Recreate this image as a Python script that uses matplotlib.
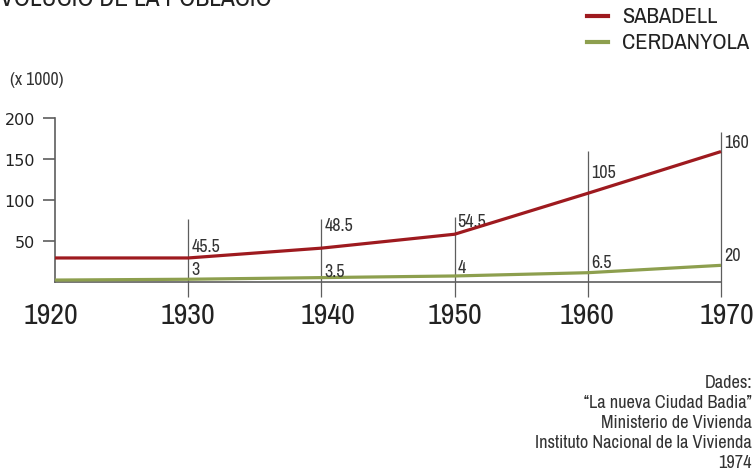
"""
Evolucio de la poblacio: Sabadell i Cerdanyola, 1920-1970.
"""

import matplotlib.pyplot as plt

# data (x 1000 habitants)
years = [1920, 1930, 1940, 1950, 1960, 1970]
sabadell = [29, 29, 41, 58, 108, 159]
cerdanyola = [2, 3, 5, 7, 11, 20]

# labels written on the chart
sabadell_labels = ["", "45.5", "48.5", "54.5", "105", "160"]
cerdanyola_labels = ["", "3", "3.5", "4", "6.5", "20"]
y_ticks = [50, 100, 150, 200]
source_lines = ["Dades:", "\u201cLa nueva Ciudad Badia\u201d", "Ministerio de Vivienda",
                "Instituto Nacional de la Vivienda", "1974"]

# layout (data units / pixels) for the hand-placed labels and guide lines
sab_label_y = [0, 43.6, 69.3, 74, 134, 170.7]
cer_label_y = [0, 15.5, 13, 18, 24, 32.6]
guide_top = [0, 76, 76, 79, 159.6, 182.7]
year_label_dx = [-4.5, -0.5, 6.5, 0, -0.5, 6]

RED = "#9e1a1f"
GREEN = "#8d9f4e"
GRAY = "#5e5e5e"
NARROW = ["Archivo Narrow", "Roboto Condensed", "DejaVu Sans"]

W, H = 756, 477
fig = plt.figure(figsize=(W / 100, H / 100), dpi=100)
ax = fig.add_axes([0, 0, 1, 1])

# pixel mapping: 1920 -> x=55, 1970 -> x=721 ; 0 -> y=282.7, 200 -> y=119
px_per_year = (721 - 55) / 50
px_per_unit = (282.7 - 119) / 200
ax.set_xlim(1920 - 55 / px_per_year, 1920 + (W - 55) / px_per_year)
ax.set_ylim(-(H - 282.7) / px_per_unit, 282.7 / px_per_unit)

for s in ["top", "right"]:
    ax.spines[s].set_visible(False)
ax.spines["left"].set_position(("data", 1920))
ax.spines["left"].set_bounds(0, 200)
ax.spines["bottom"].set_position(("data", 0))
ax.spines["bottom"].set_bounds(1920, 1970)
for s in ["left", "bottom"]:
    ax.spines[s].set_color(GRAY)
    ax.spines[s].set_linewidth(1.2)

ax.set_yticks(y_ticks)
ax.set_yticklabels([str(t) for t in y_ticks], fontsize=11.5, family="DejaVu Sans", color="#222222")
ax.tick_params(axis="y", direction="out", length=8.5, width=1.2, color=GRAY, pad=6)
ax.set_xticks([])

# vertical guide lines at each decade
for yr, top in zip(years[1:], guide_top[1:]):
    ax.vlines(yr, -19, top, color=GRAY, linewidth=0.9)

ax.plot(years, cerdanyola, color=GREEN, linewidth=2.3, solid_capstyle="butt", zorder=3)
ax.plot(years, sabadell, color=RED, linewidth=2.3, solid_capstyle="butt", zorder=4)

dx = 3 / px_per_year
for yr, lab, ly in zip(years, sabadell_labels, sab_label_y):
    if lab:
        ax.text(yr + dx, ly, lab, fontsize=13, family=NARROW, color="#333333", va="center", ha="left")
for yr, lab, ly in zip(years, cerdanyola_labels, cer_label_y):
    if lab:
        ax.text(yr + dx, ly, lab, fontsize=13, family=NARROW, color="#333333", va="center", ha="left")

# year labels below the axis
year_label_y = -(316 - 282.7) / px_per_unit
for yr, off in zip(years, year_label_dx):
    ax.text(yr + off / px_per_year, year_label_y, str(yr), fontsize=21.5, family=NARROW,
            color="#222222", ha="center", va="center")

# title (cut off at the top as in the original)
fig.text(-14 / W, 1 - 6 / H, "EVOLUCI\u00d3 DE LA POBLACI\u00d3", fontsize=18.3, family=NARROW,
         color="#222222", ha="left", va="baseline")
fig.text(10 / W, 1 - 80 / H, "(x 1000)", fontsize=12.8, family=NARROW, color="#333333",
         ha="left", va="center")

# legend
for name, col, ypx in [("SABADELL", RED, 17), ("CERDANYOLA", GREEN, 43)]:
    fig.add_artist(plt.Line2D([587 / W, 608 / W], [1 - ypx / H, 1 - ypx / H], color=col, linewidth=3))
    fig.text(622 / W, 1 - ypx / H, name, fontsize=16.2, family=NARROW, color="#222222",
             ha="left", va="center")

# source
for i, line in enumerate(source_lines):
    fig.text(752 / W, 1 - (383 + 20 * i) / H, line, fontsize=13.2, family=NARROW,
             color="#333333", ha="right", va="center")

fig.savefig("out.png", dpi=100)
